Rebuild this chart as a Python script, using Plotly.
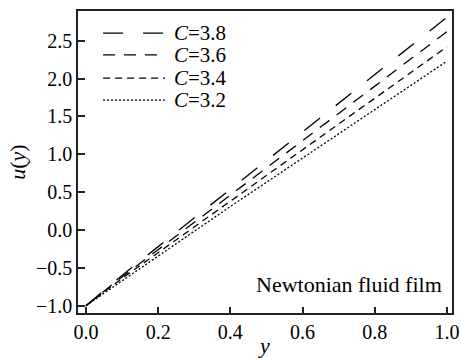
import plotly.graph_objects as go

# Data
y_vals = [0.0, 0.1, 0.2, 0.3, 0.4, 0.5, 0.6, 0.7, 0.8, 0.9, 1.0]
u_c38 = [-1.00, -0.60, -0.22, 0.16, 0.54, 0.91, 1.29, 1.67, 2.05, 2.43, 2.81]
u_c36 = [-1.00, -0.62, -0.26, 0.10, 0.46, 0.82, 1.18, 1.54, 1.90, 2.26, 2.62]
u_c34 = [-1.00, -0.64, -0.30, 0.04, 0.38, 0.72, 1.06, 1.40, 1.74, 2.08, 2.42]
u_c32 = [-1.00, -0.67, -0.34, -0.01, 0.31, 0.63, 0.95, 1.27, 1.59, 1.91, 2.23]
labels = ["<i>C</i>=3.8", "<i>C</i>=3.6", "<i>C</i>=3.4", "<i>C</i>=3.2"]
series = [u_c38, u_c36, u_c34, u_c32]

dashes = ["20px,20px", "12px,9px", "7px,5px", "2px,2px"]
FONT = "Liberation Serif"

fig = go.Figure()
for s, lab, d in zip(series, labels, dashes):
    fig.add_trace(go.Scatter(x=y_vals, y=s, mode="lines", name=lab,
                             line=dict(color="black", width=1.3, dash=d),
                             showlegend=False))

# custom legend (paper coords)
leg_y = [0.927, 0.855, 0.778, 0.705]
for lab, d, yy in zip(labels, dashes, leg_y):
    fig.add_shape(type="line", xref="paper", yref="paper",
                  x0=0.067, x1=0.233, y0=yy, y1=yy,
                  line=dict(color="black", width=1.3, dash=d))
    fig.add_annotation(xref="paper", yref="paper", x=0.252, y=yy,
                       text=lab, showarrow=False, xanchor="left",
                       yanchor="middle", font=dict(family=FONT, size=21, color="black"))

fig.add_annotation(xref="paper", yref="paper", x=0.978, y=0.095,
                   text="Newtonian fluid film", showarrow=False,
                   xanchor="right", yanchor="middle",
                   font=dict(family=FONT, size=22, color="black"))

axis_common = dict(showgrid=False, zeroline=False, showline=True, mirror=True,
                   linecolor="#222", linewidth=1.5, ticks="inside",
                   tickcolor="#222", tickwidth=1.5, automargin=False,
                   tickfont=dict(family=FONT, size=20, color="black"))

fig.update_xaxes(range=[-0.022, 1.014], tickvals=[0, 0.2, 0.4, 0.6, 0.8, 1.0],
                 ticktext=["0.0", "0.2", "0.4", "0.6", "0.8", "1.0"], ticklen=6,
                 title=dict(text="<i>y</i>", standoff=2,
                            font=dict(family=FONT, size=22, color="black")),
                 **axis_common)
fig.update_yaxes(range=[-1.097, 2.893],
                 tickvals=[-1.0, -0.5, 0.0, 0.5, 1.0, 1.5, 2.0, 2.5],
                 ticktext=["\u22121.0", "\u22120.5", "0.0", "0.5", "1.0", "1.5", "2.0", "2.5"],
                 ticklen=7,
                 title=dict(text="<i>u</i>(<i>y</i>)", standoff=4,
                            font=dict(family=FONT, size=22, color="black")),
                 **axis_common)

fig.update_layout(width=461, height=358,
                  margin=dict(l=78, r=9, t=11, b=45),
                  font=dict(family=FONT),
                  plot_bgcolor="white", paper_bgcolor="white")

fig.write_html("out.html")
